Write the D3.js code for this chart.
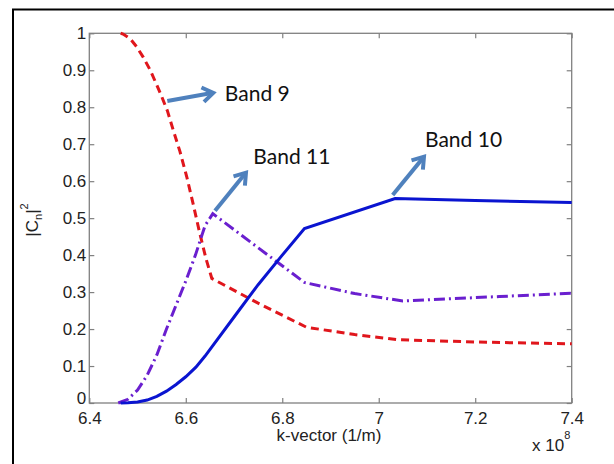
<!DOCTYPE html>
<html><head><meta charset="utf-8">
<script src="https://cdn.jsdelivr.net/npm/d3@7"></script>
<style>html,body{margin:0;padding:0;background:#fff;}svg{display:block;}</style>
</head><body>
<script>
// ---- data ----
const band9K = [6.465, 6.47, 6.485, 6.498, 6.512, 6.526, 6.54, 6.55, 6.562, 6.574, 6.588, 6.602, 6.615, 6.629, 6.642, 6.654, 6.75, 6.85, 6.95, 7.04, 7.2, 7.4];
const band9V = [1.0, 0.998, 0.985, 0.964, 0.935, 0.901, 0.86, 0.829, 0.79, 0.738, 0.68, 0.612, 0.54, 0.459, 0.39, 0.337, 0.27, 0.205, 0.185, 0.171, 0.165, 0.160];
const band10K = [6.465, 6.48, 6.5, 6.52, 6.54, 6.56, 6.58, 6.6, 6.621, 6.64, 6.653, 6.702, 6.75, 6.8, 6.846, 7.034, 7.2, 7.4];
const band10V = [0, 0.001, 0.003, 0.008, 0.018, 0.032, 0.05, 0.071, 0.097, 0.127, 0.15, 0.236, 0.32, 0.4, 0.472, 0.553, 0.548, 0.542];
const band11K = [6.46, 6.48, 6.5, 6.52, 6.54, 6.56, 6.58, 6.6, 6.62, 6.64, 6.656, 6.75, 6.846, 6.95, 7.05, 7.15, 7.25, 7.4];
const band11V = [0, 0.01, 0.035, 0.075, 0.13, 0.2, 0.265, 0.33, 0.4, 0.48, 0.512, 0.42, 0.326, 0.296, 0.276, 0.282, 0.288, 0.297];
const xTicks = [6.4, 6.6, 6.8, 7.0, 7.2, 7.4];
const xTickLabels = ["6.4", "6.6", "6.8", "7", "7.2", "7.4"];
const yTicks = [0, 0.1, 0.2, 0.3, 0.4, 0.5, 0.6, 0.7, 0.8, 0.9, 1];
const yTickLabels = ["0", "0.1", "0.2", "0.3", "0.4", "0.5", "0.6", "0.7", "0.8", "0.9", "1"];
const annotLabels = ["Band 9", "Band 11", "Band 10"];
const annotTail = [[6.5617, 0.817], [6.6606, 0.520], [7.0289, 0.5626]];
const annotHead = [[6.657, 0.839], [6.7248, 0.623], [7.0938, 0.6662]];
const annotText = [[6.681, 0.817], [6.740, 0.6466], [7.0959, 0.6933]];

// ---- layout ----
const W = 614, H = 464;
const L = 89.3, R = 571.7, T = 33.3, B = 403;
const svg = d3.select("body").append("svg").attr("width", W).attr("height", H);

svg.append("rect").attr("x", 13).attr("y", 9.5).attr("width", 640).attr("height", 500)
  .attr("fill", "none").attr("stroke", "#000").attr("stroke-width", 2);

const x = d3.scaleLinear().domain([6.4, 7.4]).range([L, R]);
const y = d3.scaleLinear().domain([0, 1]).range([B, T]);

const axisColor = "#808080";
const g = svg.append("g");

g.append("rect").attr("x", L).attr("y", T).attr("width", R - L).attr("height", B - T)
  .attr("fill", "none").attr("stroke", axisColor).attr("stroke-width", 1.3);

const fontAxis = "Liberation Sans, Arial, sans-serif";
const xb = g.append("g").attr("transform", `translate(0,${B})`)
  .call(d3.axisBottom(x).tickValues(xTicks).tickSize(-5).tickPadding(9).tickFormat((d, i) => xTickLabels[i]));
const xt = g.append("g").attr("transform", `translate(0,${T})`)
  .call(d3.axisTop(x).tickValues(xTicks).tickSize(-5).tickFormat(""));
const yl = g.append("g").attr("transform", `translate(${L},0)`)
  .call(d3.axisLeft(y).tickValues(yTicks).tickSize(-5).tickPadding(3).tickFormat((d, i) => yTickLabels[i]));
const yr = g.append("g").attr("transform", `translate(${R},0)`)
  .call(d3.axisRight(y).tickValues(yTicks).tickSize(-5).tickFormat(""));
[xb, xt, yl, yr].forEach(a => {
  a.attr("font-family", fontAxis).attr("font-size", 17);
  a.select(".domain").remove();
  a.selectAll(".tick line").attr("stroke", axisColor).attr("stroke-width", 1.2);
  a.selectAll(".tick text").attr("fill", "#222");
});
xb.selectAll(".tick text").attr("dy", "0.71em");
yl.selectAll(".tick text").filter(d => d === 0).attr("dy", "0em");

svg.append("text").attr("x", 329).attr("y", 441).attr("text-anchor", "middle")
  .attr("font-family", fontAxis).attr("font-size", 17).attr("fill", "#222")
  .text("k-vector (1/m)");
const ex = svg.append("text").attr("x", 532).attr("y", 451)
  .attr("font-family", fontAxis).attr("font-size", 17).attr("fill", "#222");
ex.append("tspan").text("x 10");
ex.append("tspan").attr("dy", -12).attr("font-size", 11).text("8");

const ylab = svg.append("text").attr("transform", "translate(38,220) rotate(-90)")
  .attr("text-anchor", "middle").attr("font-family", fontAxis).attr("font-size", 17).attr("fill", "#222");
ylab.append("tspan").text("|C");
ylab.append("tspan").attr("dy", 4).attr("font-size", 11).text("n");
ylab.append("tspan").attr("dy", -4).text("|");
ylab.append("tspan").attr("dy", -10).attr("font-size", 11).text("2");

const line = d3.line().x(d => x(d[0])).y(d => y(d[1]));
const plot = svg.append("g");
plot.append("path").datum(d3.zip(band9K, band9V)).attr("d", line)
  .attr("fill", "none").attr("stroke", "#e0161c").attr("stroke-width", 3).attr("stroke-dasharray", "8,5");
plot.append("path").datum(d3.zip(band11K, band11V)).attr("d", line)
  .attr("fill", "none").attr("stroke", "#6a1fcf").attr("stroke-width", 3).attr("stroke-dasharray", "11,4,2,4");
plot.append("path").datum(d3.zip(band10K, band10V)).attr("d", line)
  .attr("fill", "none").attr("stroke", "#0a14d0").attr("stroke-width", 3);

const arrowColor = "#4f81bd";
annotLabels.forEach((lab, i) => {
  const x0 = x(annotTail[i][0]), y0 = y(annotTail[i][1]);
  const x1 = x(annotHead[i][0]), y1 = y(annotHead[i][1]);
  const ang = Math.atan2(y1 - y0, x1 - x0);
  const hl = 13, hw = 0.6;
  const p1 = [x1 - hl * Math.cos(ang - hw), y1 - hl * Math.sin(ang - hw)];
  const p2 = [x1 - hl * Math.cos(ang + hw), y1 - hl * Math.sin(ang + hw)];
  svg.append("line").attr("x1", x0).attr("y1", y0).attr("x2", x1 - 1.5 * Math.cos(ang)).attr("y2", y1 - 1.5 * Math.sin(ang))
    .attr("stroke", arrowColor).attr("stroke-width", 4);
  svg.append("path").attr("d", `M${p1[0]},${p1[1]}L${x1},${y1}L${p2[0]},${p2[1]}`)
    .attr("fill", "none").attr("stroke", arrowColor).attr("stroke-width", 4).attr("stroke-linejoin", "miter");
  svg.append("text").attr("x", x(annotText[i][0])).attr("y", y(annotText[i][1]))
    .attr("font-family", "Lato, Open Sans, sans-serif").attr("font-size", 21).attr("fill", "#111")
    .text(lab);
});
</script>
</body></html>
